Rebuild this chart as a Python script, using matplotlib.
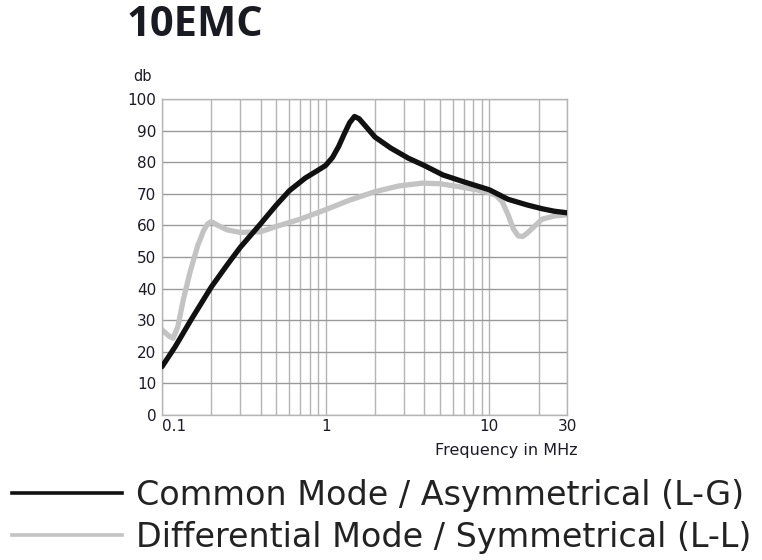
import matplotlib
matplotlib.use("Agg")
import matplotlib.pyplot as plt
from matplotlib.lines import Line2D
from matplotlib.ticker import FixedLocator, NullFormatter

# data (frequency in MHz, level in db)
cm_freq = [0.1, 0.12, 0.15, 0.2, 0.25, 0.3, 0.4, 0.5, 0.6, 0.75, 0.9, 1.0, 1.1, 1.2, 1.3,
           1.4, 1.5, 1.6, 1.75, 2.0, 2.5, 3.2, 4.0, 5.2, 7.0, 10, 13, 17, 21, 25, 30]
cm_db = [15.3, 21.5, 30.0, 40.5, 47.5, 53.0, 60.5, 66.5, 71.0, 75.0, 77.5, 79.0, 81.5,
         85.0, 89.0, 92.5, 94.5, 93.8, 91.5, 88.0, 84.5, 81.3, 79.0, 76.0, 73.8, 71.3,
         68.3, 66.5, 65.3, 64.5, 64.0]

dm_freq = [0.1, 0.11, 0.117, 0.125, 0.135, 0.148, 0.165, 0.18, 0.19, 0.2, 0.22, 0.25,
           0.3, 0.4, 0.5, 0.7, 1.0, 1.4, 2.0, 2.8, 3.9, 5.0, 6.5, 8.5, 10, 11, 12, 13,
           14, 15, 16, 17, 18.5, 21, 25, 30]
dm_db = [27.0, 25.0, 24.3, 28.0, 36.5, 45.0, 53.5, 58.5, 60.5, 61.2, 60.0, 58.6,
         57.8, 58.0, 59.7, 62.0, 65.0, 68.0, 70.7, 72.5, 73.4, 73.2, 72.3, 71.2, 70.3,
         69.5, 67.5, 63.5, 59.0, 56.7, 56.5, 57.5, 59.3, 62.0, 63.0, 63.4]

labels = ["Common Mode / Asymmetrical (L-G)", "Differential Mode / Symmetrical (L-L)"]
x_ticks = [0.1, 1, 10, 30]
x_tick_labels = ["0.1", "1", "10", "30"]
y_ticks = list(range(0, 101, 10))

cm_color = "#111111"
dm_color = "#c3c3c3"
txt_color = "#1a1a2a"

plt.rcParams['font.family'] = ['DejaVu Sans']

fig = plt.figure(figsize=(7.62, 5.6), dpi=100)
ax = fig.add_axes([0.2126, 0.259, 0.532, 0.564])

ax.plot(cm_freq, cm_db, color=cm_color, lw=3.8, solid_joinstyle="round",
        solid_capstyle="round", zorder=3)
ax.plot(dm_freq, dm_db, color=dm_color, lw=3.8, solid_joinstyle="round",
        solid_capstyle="round", zorder=2)

ax.set_xscale("log")
ax.set_xlim(0.1, 30)
ax.set_ylim(0, 100)
ax.xaxis.set_major_locator(FixedLocator(x_ticks))
ax.set_xticklabels(x_tick_labels)
minor = [m * d for d in (0.1, 1, 10) for m in range(2, 10) if m * d < 30]
ax.xaxis.set_minor_locator(FixedLocator(minor))
ax.xaxis.set_minor_formatter(NullFormatter())
ax.set_yticks(y_ticks)

ax.grid(True, which="both", axis="x", color="#b5b5b5", lw=1.0)
ax.grid(True, which="major", axis="y", color="#9a9a9a", lw=1.0)
for s in ax.spines.values():
    s.set_color("#b5b5b5")
    s.set_linewidth(1.0)
ax.tick_params(which="both", length=0)
ax.tick_params(axis="y", labelsize=11, pad=4, labelcolor=txt_color)
ax.tick_params(axis="x", labelsize=11, pad=3, labelcolor=txt_color)
xl = ax.get_xticklabels()
xl[0].set_horizontalalignment("left")

fig.text(0.166, 0.955, "10EMC", fontsize=30, fontweight="bold", color="#1a1a22",
         family="Open Sans", ha="left", va="center")
fig.text(0.187, 0.864, "db", fontsize=10.5, color=txt_color, ha="center", va="center")
fig.text(0.758, 0.196, "Frequency in MHz", fontsize=11.5, color=txt_color, ha="right",
         va="center")

handles = [Line2D([], [], color=cm_color, lw=2.6), Line2D([], [], color=dm_color, lw=2.6)]
fig.legend(handles, labels, loc="upper left", bbox_to_anchor=(0.016, 0.145),
           frameon=False, fontsize=24, handlelength=3.3, handletextpad=0.4,
           labelspacing=0.28, borderaxespad=0, borderpad=0, labelcolor="#222222")

fig.savefig("out.png", dpi=100)
plt.close(fig)
